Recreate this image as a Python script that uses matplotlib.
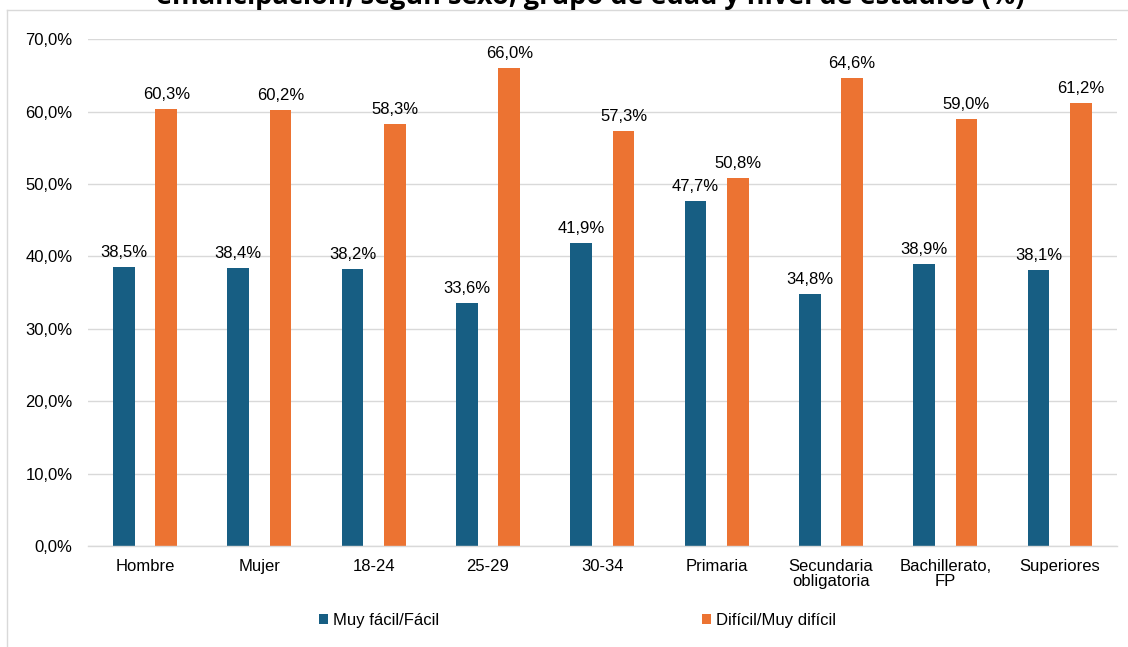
import numpy as np
import matplotlib.pyplot as plt
from matplotlib.lines import Line2D

plt.rcParams['font.family'] = ['Liberation Sans', 'DejaVu Sans']

categories = ['Hombre', 'Mujer', '18-24', '25-29', '30-34', 'Primaria',
              'Secundaria\nobligatoria', 'Bachillerato,\nFP', 'Superiores']
facil = [38.5, 38.4, 38.2, 33.6, 41.9, 47.7, 34.8, 38.9, 38.1]
dificil = [60.3, 60.2, 58.3, 66.0, 57.3, 50.8, 64.6, 59.0, 61.2]
series_names = ['Muy fácil/Fácil', 'Difícil/Muy difícil']
title = 'emancipación, según sexo, grupo de edad y nivel de estudios (%)'

blue = '#175e83'
orange = '#ec7332'
grid_col = '#d9d9d9'

fig = plt.figure(figsize=(11.28, 6.47), dpi=100)
ax = fig.add_axes([0.078, 0.156, 0.912, 0.7835])

x = np.arange(len(categories))
w = 0.19
b1 = ax.bar(x - 0.185, facil, w, color=blue, label=series_names[0], zorder=2)
b2 = ax.bar(x + 0.185, dificil, w, color=orange, label=series_names[1], zorder=2)

for bars, vals in ((b1, facil), (b2, dificil)):
    for r, v in zip(bars, vals):
        ax.annotate(f'{v:.1f}%'.replace('.', ','),
                    (r.get_x() + r.get_width() / 2, v),
                    xytext=(0, 5), textcoords='offset points',
                    ha='center', va='bottom', fontsize=12, color='#000000')

ax.set_xlim(-0.5, len(categories) - 0.5)
ax.set_ylim(0, 70)
ax.set_yticks(np.arange(0, 71, 10))
ax.set_yticklabels([f'{t:.1f}%'.replace('.', ',') for t in np.arange(0, 71, 10)],
                   fontsize=12)
ax.set_xticks(x)
ax.set_xticklabels(categories, fontsize=12, linespacing=1.05)
ax.tick_params(axis='both', length=0)
ax.tick_params(axis='y', pad=11)
ax.tick_params(axis='x', pad=9)
ax.grid(axis='y', color=grid_col, linewidth=1, zorder=0)
for s in ['top', 'right', 'left']:
    ax.spines[s].set_visible(False)
ax.spines['bottom'].set_color(grid_col)
ax.spines['bottom'].set_linewidth(1)

fig.legend(handles=[b1, b2], loc='center', bbox_to_anchor=(0.512, 0.041),
           ncol=2, frameon=False, fontsize=12, handlelength=0.5,
           handleheight=0.5, handletextpad=0.3, columnspacing=15.8)

# chart border (cut off at the top and right, as in the source)
fig.add_artist(Line2D([7 / 1128, 1], [1 - 10 / 647, 1 - 10 / 647],
                      transform=fig.transFigure, color='#d9d9d9', linewidth=1))
fig.add_artist(Line2D([7 / 1128, 7 / 1128], [0, 1 - 10 / 647],
                      transform=fig.transFigure, color='#d9d9d9', linewidth=1))

fig.text(0.523, 1 - 4 / 647, title, ha='center', va='baseline',
         fontsize=19.5, fontweight='bold', family=['Open Sans', 'DejaVu Sans'])

fig.savefig('out.png', dpi=100)
